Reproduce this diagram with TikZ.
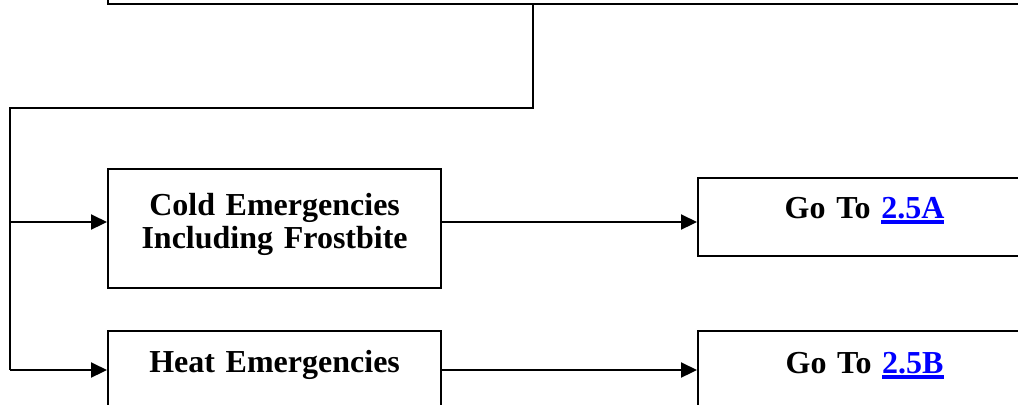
\documentclass[tikz,border=0pt]{standalone}
\usepackage{fontspec}
\setmainfont{Liberation Serif}
\newcommand*{\boxfont}{\fontsize{16}{16.5}\selectfont\bfseries}
\definecolor{linkblue}{RGB}{0,0,255}
\newsavebox{\linkbox}
\newcommand*{\linkref}[1]{\textcolor{linkblue}{\sbox\linkbox{#1}\rlap{\rule[-2.8pt]{\wd\linkbox}{1.8pt}}\usebox\linkbox}}
\usetikzlibrary{arrows.meta}
\usetikzlibrary{positioning}
\tikzset{
  base/.style={x=0.5pt, y=-0.5pt, line width=1.1pt},
  flowbox/.style={draw, line width=1.1pt, inner sep=0pt, align=center, text width=166.5pt, anchor=north west, font=\boxfont},
  wire/.style={line width=1.1pt},
  flow/.style={wire, -{Triangle[length=8pt, width=7.5pt]}}
}
\begin{document}
\begin{tikzpicture}[base]
    \useasboundingbox (0,0) rectangle (1018,404);
    \clip (0,0) rectangle (1018,404);
    % boxes
    \node [flowbox, anchor=south west, text width=480pt, minimum height=45pt] (top) at (107,5) {};
    \node [flowbox, text height=23pt, text depth=36.5pt] (cold) at (107,168) {Cold Emergencies\\Including Frostbite};
    \node [flowbox, text height=20.5pt, text depth=40pt] (heat) at (107,330) {Heat Emergencies};
    \node [flowbox, text height=20pt, text depth=19pt] (goA) at (697,177) {Go To \linkref{2.5A}};
    \node [flowbox, text height=21pt, text depth=40pt] (goB) at (697,330) {Go To \linkref{2.5B}};
    % connectors
    \coordinate (split) at (533,108);
    \coordinate (rail) at (10,108);
    \coordinate (rowcold) at (0,222);
    \coordinate (rowheat) at (0,370);
    \draw [wire] (top.south -| split) -- (split) -- (rail) -- (rail |- rowheat);
    \draw [flow] (rail |- rowcold) -- (cold.west |- rowcold);
    \draw [flow] (rail |- rowheat) -- (heat.west |- rowheat);
    \draw [flow] (cold.east |- rowcold) -- (goA.west |- rowcold);
    \draw [flow] (heat.east |- rowheat) -- (goB.west |- rowheat);
\end{tikzpicture}
\end{document}
